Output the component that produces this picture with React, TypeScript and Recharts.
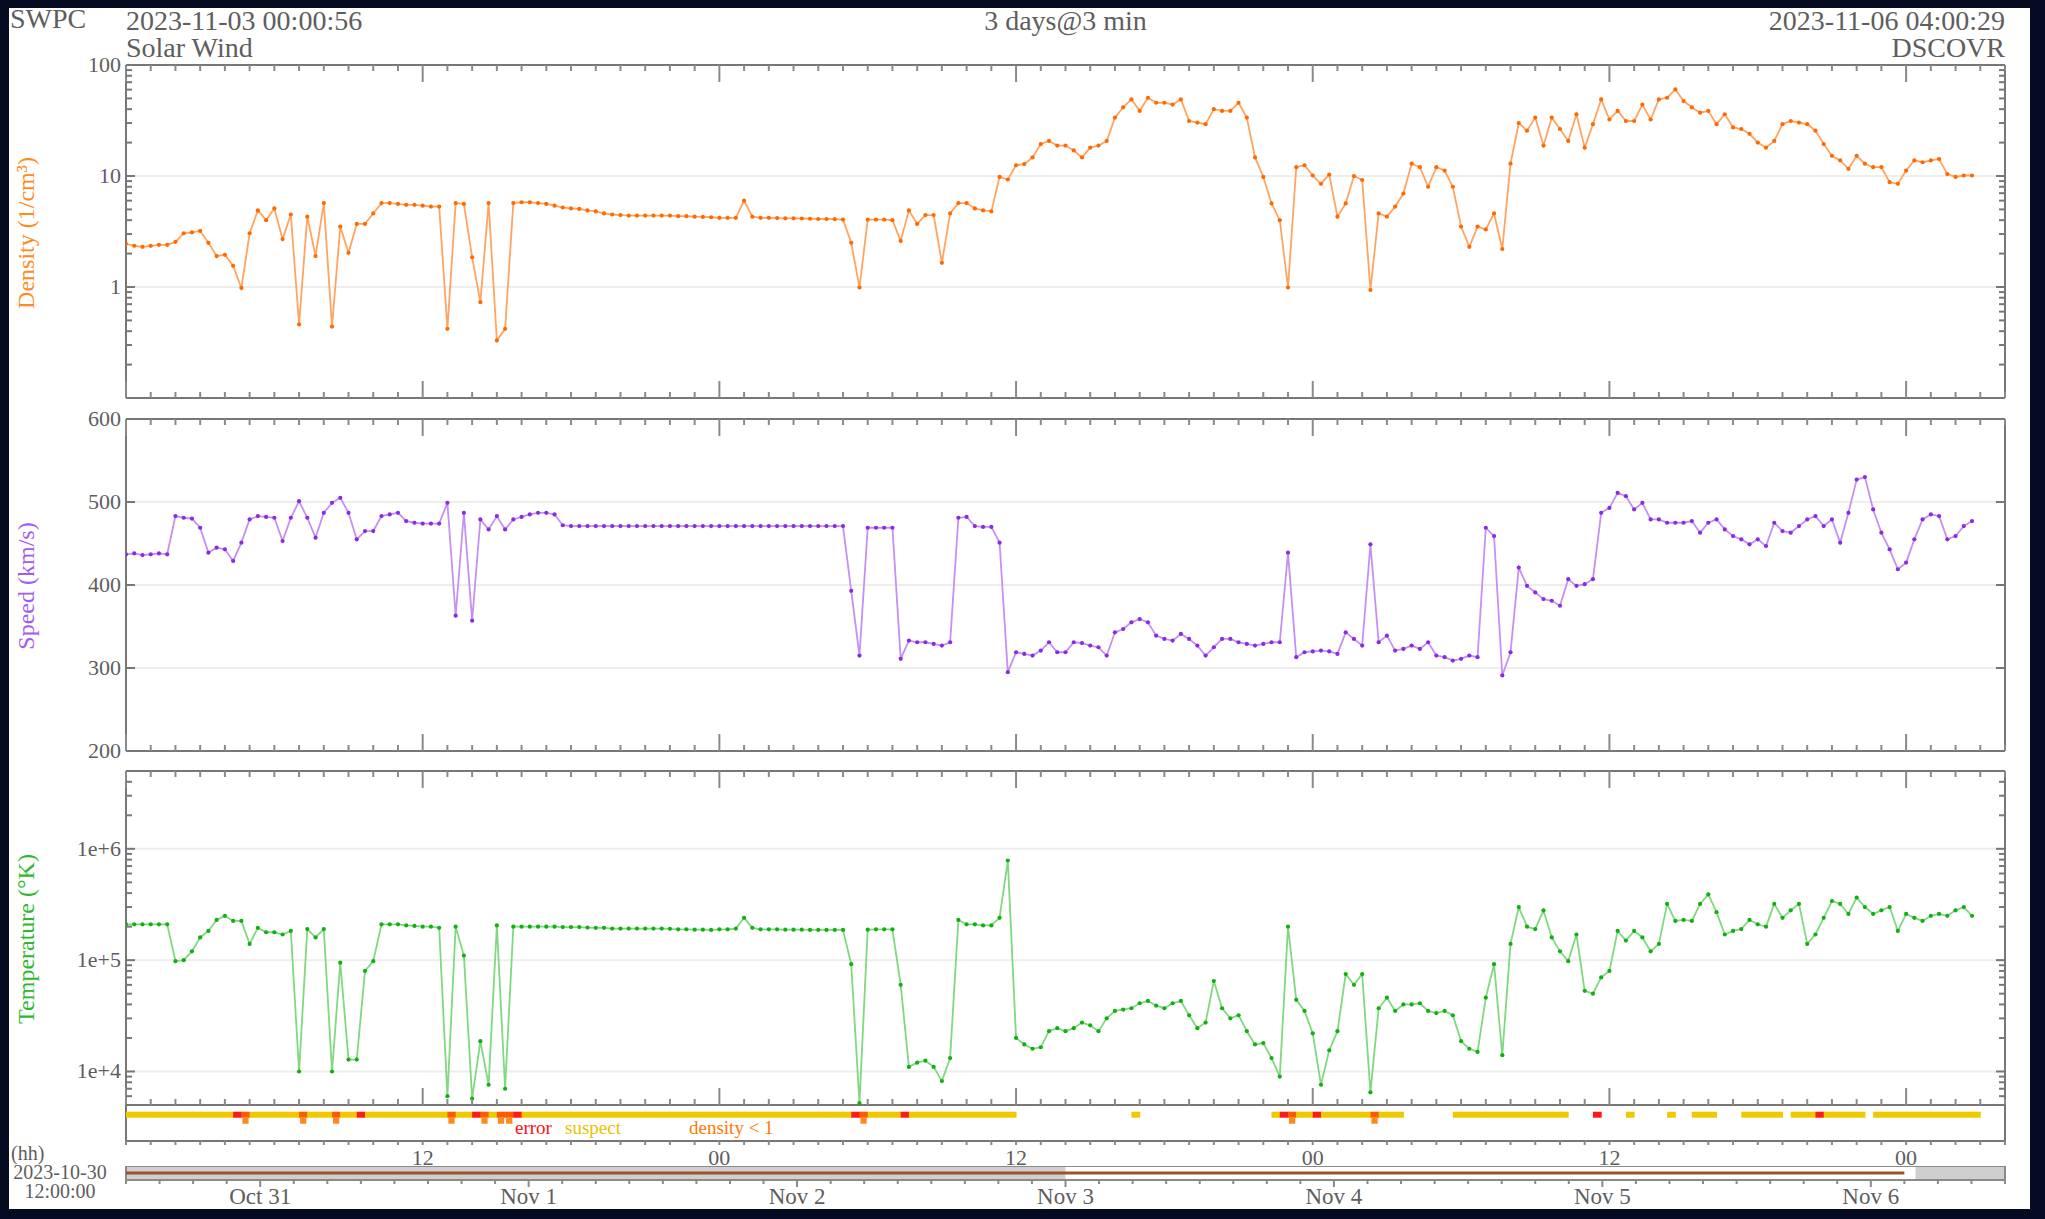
import React from "react";
import {
  LineChart,
  Line,
  XAxis,
  YAxis,
  ReferenceLine,
  ReferenceArea,
  ComposedChart,
  Scatter,
} from "recharts";

// ---- data: 20 minute samples from 2023-11-03 00:00 UT ----
const STEP_HOURS = 1 / 3;

const densityValues = [
  2.45, 2.35, 2.3, 2.35, 2.4, 2.4, 2.55, 3.05, 3.1, 3.2, 2.5, 1.9, 1.95, 1.55, 0.98,
  3.05, 4.9, 4.0, 5.1, 2.7, 4.5, 0.46, 4.3, 1.9, 5.7, 0.44, 3.5, 2.03, 3.7, 3.7,
  4.6, 5.7, 5.7, 5.6, 5.5, 5.5, 5.4, 5.3, 5.3, 0.42, 5.7, 5.6, 1.85, 0.73, 5.7,
  0.33, 0.42, 5.7, 5.8, 5.8, 5.7, 5.6, 5.4, 5.2, 5.1, 5.05, 4.9, 4.8, 4.6, 4.5,
  4.45, 4.4, 4.4, 4.4, 4.4, 4.4, 4.4, 4.35, 4.35, 4.3, 4.28, 4.25, 4.2, 4.2, 4.2,
  6.0, 4.3, 4.2, 4.2, 4.18, 4.16, 4.16, 4.14, 4.12, 4.1, 4.1, 4.08, 4.05, 2.5, 0.99,
  4.05, 4.05, 4.05, 4.0, 2.6, 4.9, 3.7, 4.45, 4.45, 1.65, 4.6, 5.7, 5.7, 5.1, 4.9,
  4.8, 9.8, 9.3, 12.5, 12.8, 14.7, 19.4, 20.7, 18.8, 18.8, 17, 14.7, 18, 18.8, 20.7,
  33.6, 41.6, 49, 38.6, 50.7, 45.7, 45.7, 44, 49, 31.3, 30.3, 29.3, 40, 38.6, 38.6,
  45.7, 33.6, 14.7, 9.8, 5.66, 4.0, 0.99, 12, 12.5, 10.1, 8.5, 10.3, 4.3, 5.66, 10,
  9.2, 0.94, 4.6, 4.3, 5.3, 6.95, 12.9, 12, 8, 12, 11.2, 8, 3.5, 2.3, 3.5,
  3.3, 4.6, 2.2, 12.9, 30, 25.6, 33.6, 18.8, 33.6, 26.5, 20.7, 36, 18, 29.3, 49,
  32.3, 38.6, 31.3, 31.3, 44, 32.3, 49, 50.7, 60.2, 47.3, 41.6, 37.2, 38.6, 29.3, 36,
  27.4, 26.5, 24, 20, 18, 20.7, 29.3, 31.3, 30.3, 29.3, 25.6, 19.4, 15.2, 13.8, 11.6,
  15.2, 12.9, 12, 12, 8.8, 8.5, 11.2, 13.8, 13.3, 13.8, 14.2, 10.4, 9.8, 10.1, 10.1,
];

const speedValues = [
  437, 438, 436, 437, 438, 437, 483, 481, 480, 469, 439, 445, 443, 429, 451,
  479, 483, 482, 481, 453, 481, 501, 481, 457, 487, 499, 505, 487, 455, 465,
  465, 483, 485, 487, 477, 475, 474, 474, 474, 499, 363, 487, 357, 479, 467,
  483, 467, 479, 482, 485, 487, 487, 485, 472, 471, 471, 471, 471, 471, 471,
  471, 471, 471, 471, 471, 471, 471, 471, 471, 471, 471, 471, 471, 471, 471,
  471, 471, 471, 471, 471, 471, 471, 471, 471, 471, 471, 471, 471, 393, 315,
  469, 469, 469, 469, 311, 333, 331, 331, 329, 327, 331, 481, 482, 471, 470,
  470, 451, 295, 319, 317, 315, 321, 331, 319, 319, 331, 330, 327, 325, 315,
  343, 347, 355, 359, 355, 339, 335, 333, 341, 335, 327, 315, 325, 335, 335,
  331, 329, 327, 329, 331, 331, 439, 313, 319, 320, 321, 320, 317, 343, 335,
  327, 449, 331, 339, 321, 323, 327, 323, 331, 315, 313, 309, 311, 315, 313,
  469, 459, 291, 319, 421, 399, 391, 383, 381, 375, 407, 399, 401, 407, 487,
  493, 511, 507, 491, 499, 479, 479, 475, 475, 475, 477, 463, 475, 479, 467,
  459, 455, 449, 455, 447, 475, 465, 463, 471, 479, 483, 471, 479, 451, 487,
  527, 530, 491, 463, 443, 419, 427, 455, 479, 485, 483, 455, 459, 471, 477,
];

const temperatureValues = [
  210000, 210000, 210000, 210000, 210000, 210000, 98000, 100000, 120000, 160000, 183000, 230000, 250000, 225000, 225000,
  140000, 195000, 178000, 178000, 170000, 183000, 10000, 190000, 160000, 190000, 10000, 95000, 12800, 12800, 80000,
  98000, 210000, 210000, 210000, 205000, 203000, 200000, 200000, 195000, 6000, 200000, 110000, 5700, 18700, 7600,
  205000, 7000, 200000, 200000, 200000, 200000, 200000, 200000, 198000, 198000, 198000, 196000, 195000, 195000, 192000,
  192000, 192000, 192000, 192000, 192000, 192000, 191000, 189000, 189000, 188000, 188000, 187000, 189000, 189000, 192000,
  240000, 195000, 189000, 189000, 189000, 188000, 188000, 188000, 187000, 187000, 187000, 187000, 187000, 92000, 5200,
  188000, 189000, 189000, 189000, 60000, 11000, 12000, 12500, 11000, 8200, 13200, 230000, 210000, 210000, 205000,
  205000, 240000, 785000, 20000, 17500, 16000, 16500, 23000, 24500, 23000, 24500, 27500, 26000, 23000, 30000,
  35000, 36000, 37000, 41000, 43000, 39000, 37000, 41000, 43000, 32000, 24500, 27500, 65000, 37000, 30000,
  32000, 23000, 17500, 18000, 13200, 9000, 200000, 44000, 35000, 22000, 7600, 15500, 23000, 75000, 60000,
  75000, 6500, 37000, 46000, 35000, 40000, 40000, 41000, 35000, 33500, 35000, 32000, 18700, 16000, 15000,
  46000, 92000, 14000, 140000, 300000, 200000, 190000, 280000, 160000, 120000, 98000, 170000, 53000, 50000, 70000,
  80000, 183000, 150000, 183000, 160000, 120000, 140000, 320000, 225000, 230000, 225000, 320000, 390000, 270000, 170000,
  183000, 190000, 230000, 210000, 200000, 320000, 240000, 280000, 320000, 140000, 170000, 240000, 340000, 320000, 260000,
  365000, 300000, 260000, 280000, 300000, 183000, 260000, 240000, 225000, 250000, 260000, 250000, 280000, 300000, 250000,
];

// quality flag runs: [first sample, last sample, code]  s=suspect e=error d=density<1
const flagRuns: Array<[number, number, string]> = [
  [0, 12, "s"], [13, 13, "e"], [14, 14, "d"], [15, 20, "s"], [21, 21, "d"], [22, 24, "s"],
  [25, 25, "d"], [26, 27, "s"], [28, 28, "e"], [29, 38, "s"], [39, 39, "d"], [40, 41, "s"],
  [42, 42, "e"], [43, 43, "d"], [44, 44, "s"], [45, 46, "d"], [47, 47, "e"], [48, 87, "s"],
  [88, 88, "e"], [89, 89, "d"], [90, 93, "s"], [94, 94, "e"], [95, 107, "s"], [122, 122, "s"],
  [139, 139, "s"], [140, 140, "e"], [141, 141, "d"], [142, 143, "s"], [144, 144, "e"],
  [145, 150, "s"], [151, 151, "d"], [152, 154, "s"], [161, 174, "s"], [178, 178, "e"],
  [182, 182, "s"], [187, 187, "s"], [190, 192, "s"], [196, 200, "s"], [202, 204, "s"],
  [205, 205, "e"], [206, 210, "s"], [212, 224, "s"],
];

const densityTicks = [0.1, 0.2, 0.3, 0.4, 0.5, 0.6, 0.7, 0.8, 0.9, 1, 2, 3, 4, 5, 6, 7, 8, 9, 10, 20, 30, 40, 50, 60, 70, 80, 90, 100];
const densityLabels: Record<string, string> = { "1": "1", "10": "10", "100": "100" };
const speedTicks = [200, 300, 400, 500, 600];
const speedLabels: Record<string, string> = { "200": "200", "300": "300", "400": "400", "500": "500", "600": "600" };
const temperatureTicks = [
  5000, 6000, 7000, 8000, 9000, 10000, 20000, 30000, 40000, 50000, 60000, 70000, 80000, 90000,
  100000, 200000, 300000, 400000, 500000, 600000, 700000, 800000, 900000, 1000000, 2000000, 3000000, 4000000, 5000000,
];
const temperatureLabels: Record<string, string> = { "10000": "1e+4", "100000": "1e+5", "1000000": "1e+6" };

const hourLabelHours = [12, 24, 36, 48, 60, 72];
const hourLabels = ["12", "00", "12", "00", "12", "00"];
const dateTickHours = [12, 36, 60, 84, 108, 132, 156];
const dateLabels = ["Oct 31", "Nov 1", "Nov 2", "Nov 3", "Nov 4", "Nov 5", "Nov 6"];
const selectionWindow = [84, 160];
const dataSpan = [0, 159];

// ---- layout ----
const W = 2045;
const H = 1219;
const PLOT_L = 126;
const PLOT_R = 2005;
const AX = 20;
const TEXT = "#5e5e5e";
const FRAME = "#777";
const FONT = "'Liberation Serif', 'DejaVu Serif', serif";

const rows = densityValues.map((d, i) => ({
  h: i * STEP_HOURS,
  density: d,
  speed: speedValues[i],
  temperature: temperatureValues[i],
}));

const flagPoints: Array<{ h: number; y: number; code: string }> = [];
flagRuns.forEach(([a, b, code]) => {
  for (let i = a; i <= b; i++) flagPoints.push({ h: i * STEP_HOURS, y: 0.73, code });
});

const hourTicks = Array.from({ length: 77 }, (_, i) => i);
const timelineTicks = Array.from({ length: 57 }, (_, i) => i * 3);
const STEP_PX = ((PLOT_R - PLOT_L) / 76) * STEP_HOURS;

function topTick(y0: number) {
  return (p: any) => {
    const big = p.payload.value % 12 === 0;
    return <line x1={p.x} x2={p.x} y1={y0} y2={y0 + (big ? 17 : 6)} stroke="#8a8a8a" strokeWidth={2} />;
  };
}
function bottomTick(y0: number) {
  return (p: any) => {
    const big = p.payload.value % 12 === 0;
    return <line x1={p.x} x2={p.x} y1={y0} y2={y0 - (big ? 17 : 6)} stroke="#8a8a8a" strokeWidth={2} />;
  };
}
function leftTick(labels: Record<string, string>) {
  return (p: any) => {
    const lab = labels[String(p.payload.value)];
    return (
      <g>
        <line x1={PLOT_L} x2={PLOT_L + (lab ? 9 : 6)} y1={p.y} y2={p.y} stroke={FRAME} strokeWidth={2} />
        {lab && (
          <text x={PLOT_L - 5} y={p.y + 7} textAnchor="end" fontSize={22} fill={TEXT} fontFamily={FONT}>
            {lab}
          </text>
        )}
      </g>
    );
  };
}
function rightTick(labels: Record<string, string>) {
  return (p: any) => {
    const lab = labels[String(p.payload.value)];
    return <line x1={PLOT_R} x2={PLOT_R - (lab ? 9 : 6)} y1={p.y} y2={p.y} stroke={FRAME} strokeWidth={2} />;
  };
}

type PanelProps = {
  top: number;
  bottom: number;
  dataKey: string;
  domain: [number, number];
  log: boolean;
  ticks: number[];
  labels: Record<string, string>;
  grid: number[];
  stroke: string;
  dotColor: string;
};

function Panel({ top, bottom, dataKey, domain, log, ticks, labels, grid, stroke, dotColor }: PanelProps) {
  const h = bottom - top;
  const axisLine = { stroke: FRAME, strokeWidth: 2 };
  return (
    <div style={{ position: "absolute", left: 0, top: top - AX }}>
      <LineChart width={W} height={h + 2 * AX} data={rows} margin={{ top: 0, right: W - PLOT_R - 10, bottom: 0, left: 0 }}>
        <XAxis xAxisId="t" orientation="top" type="number" dataKey="h" domain={[0, 76]} ticks={hourTicks}
          interval={0} height={AX} tickLine={false} axisLine={axisLine} tick={topTick(AX)} allowDataOverflow />
        <XAxis xAxisId="b" orientation="bottom" type="number" dataKey="h" domain={[0, 76]} ticks={hourTicks}
          interval={0} height={AX} tickLine={false} axisLine={axisLine} tick={bottomTick(AX + h)} allowDataOverflow />
        <YAxis yAxisId="l" orientation="left" width={PLOT_L} type="number" scale={log ? "log" : "linear"}
          domain={domain} ticks={ticks} interval={0} allowDataOverflow tickLine={false} axisLine={axisLine}
          tick={leftTick(labels)} />
        <YAxis yAxisId="r" orientation="right" width={10} type="number" scale={log ? "log" : "linear"}
          domain={domain} ticks={ticks} interval={0} allowDataOverflow tickLine={false} axisLine={axisLine}
          tick={rightTick(labels)} />
        {grid.map((g) => (
          <ReferenceLine key={g} xAxisId="b" yAxisId="l" y={g} stroke="#eeeeee" strokeWidth={2} />
        ))}
        <Line xAxisId="b" yAxisId="l" type="linear" dataKey={dataKey} stroke={stroke} strokeWidth={1.8}
          dot={{ r: 2.1, fill: dotColor, stroke: "none" }} isAnimationActive={false} />
      </LineChart>
    </div>
  );
}

const flagColors: Record<string, string> = { s: "#f0c800", e: "#ff1a1a", d: "#ff7a00" };

function FlagShape(p: any) {
  const code = p.payload.code;
  const x = p.cx;
  const y = p.cy;
  if (code === "d") {
    return (
      <g>
        <rect x={x} y={y - 3} width={STEP_PX + 0.5} height={6} fill="#ff5a00" />
        <rect x={x + 1} y={y + 3} width={STEP_PX - 2} height={6} fill="#ff8a1a" />
      </g>
    );
  }
  return <rect x={x} y={y - 3} width={STEP_PX + 0.5} height={6} fill={flagColors[code]} />;
}

const FLAG_TOP = 1105;
const FLAG_BOTTOM = 1141;

function FlagStrip() {
  const h = FLAG_BOTTOM - FLAG_TOP;
  const axisLine = { stroke: FRAME, strokeWidth: 2 };
  const hhTick = (p: any) => {
    const v = p.payload.value;
    const k = hourLabelHours.indexOf(v);
    return (
      <g>
        <line x1={p.x} x2={p.x} y1={h} y2={h + 4} stroke="#8a8a8a" strokeWidth={2} />
        {k >= 0 && (
          <text x={p.x} y={h + 24} textAnchor="middle" fontSize={22} fill={TEXT} fontFamily={FONT}>
            {hourLabels[k]}
          </text>
        )}
      </g>
    );
  };
  return (
    <div style={{ position: "absolute", left: 0, top: FLAG_TOP }}>
      <ComposedChart width={W} height={h + 30} margin={{ top: 0, right: W - PLOT_R - 10, bottom: 0, left: 0 }}>
        <XAxis type="number" dataKey="h" domain={[0, 76]} ticks={hourTicks} interval={0} height={30}
          tickLine={false} axisLine={axisLine} tick={hhTick} allowDataOverflow />
        <YAxis yAxisId="l" width={PLOT_L} type="number" domain={[0, 1]} tick={false} tickLine={false} axisLine={axisLine} />
        <YAxis yAxisId="r" orientation="right" width={10} type="number" domain={[0, 1]} tick={false} tickLine={false} axisLine={axisLine} />
        <Scatter yAxisId="l" data={flagPoints} dataKey="y" shape={FlagShape} isAnimationActive={false} />
      </ComposedChart>
    </div>
  );
}

const TL_TOP = 1166;
const TL_H = 14;

function Timeline() {
  const spanRows = dataSpan.map((t) => ({ t, y: 0.5 }));
  const tlTick = (p: any) => {
    const v = p.payload.value;
    const k = dateTickHours.indexOf(v);
    return (
      <g>
        <line x1={p.x} x2={p.x} y1={TL_H} y2={TL_H + (k >= 0 ? 7 : 4)} stroke="#8a8a8a" strokeWidth={2} />
        {k >= 0 && (
          <text x={p.x} y={TL_H + 24} textAnchor="middle" fontSize={23} fill={TEXT} fontFamily={FONT}>
            {dateLabels[k]}
          </text>
        )}
      </g>
    );
  };
  return (
    <div style={{ position: "absolute", left: 0, top: TL_TOP }}>
      <ComposedChart width={W} height={TL_H + 40} data={spanRows} margin={{ top: 0, right: W - PLOT_R - 10, bottom: 0, left: 0 }}>
        <XAxis type="number" dataKey="t" domain={[0, 168]} ticks={timelineTicks} interval={0} height={40}
          tickLine={false} axisLine={false} tick={tlTick} allowDataOverflow />
        <YAxis width={PLOT_L} type="number" domain={[0, 1]} tick={false} tickLine={false} axisLine={false} />
        <YAxis yAxisId="r" orientation="right" width={10} type="number" domain={[0, 1]} tick={false} tickLine={false} axisLine={false} />
        <ReferenceArea x1={0} x2={168} y1={0} y2={1} fill="#cfcfcf" fillOpacity={1} stroke="#8a8a8a" strokeWidth={2} />
        <ReferenceArea x1={selectionWindow[0]} x2={selectionWindow[1]} y1={0.08} y2={0.92} fill="#ffffff" fillOpacity={1} />
        <Line type="linear" dataKey="y" stroke="#a0522d" strokeWidth={3} dot={false} isAnimationActive={false} />
      </ComposedChart>
    </div>
  );
}

export default function App() {
  return (
    <div style={{ position: "relative", width: W, height: H, background: "#050b20", overflow: "hidden", fontFamily: FONT }}>
      <style>{"body{margin:0}"}</style>
      <div style={{ position: "absolute", left: 9, top: 8, width: 2021, height: 1201, background: "#ffffff" }} />
      <Panel top={65} bottom={398} dataKey="density" domain={[0.1, 100]} log ticks={densityTicks}
        labels={densityLabels} grid={[1, 10]} stroke="#ffa461" dotColor="#ff6a00" />
      <Panel top={419} bottom={751} dataKey="speed" domain={[200, 600]} log={false} ticks={speedTicks}
        labels={speedLabels} grid={[300, 400, 500]} stroke="#c690f3" dotColor="#8a2be2" />
      <Panel top={771} bottom={1105} dataKey="temperature" domain={[5000, 5000000]} log ticks={temperatureTicks}
        labels={temperatureLabels} grid={[10000, 100000, 1000000]} stroke="#80d880" dotColor="#10b010" />
      <FlagStrip />
      <Timeline />
      <svg width={W} height={H} style={{ position: "absolute", left: 0, top: 0, pointerEvents: "none" }}>
        <g fontFamily={FONT} fill={TEXT} fontSize={28}>
          <text x={10} y={28}>SWPC</text>
          <text x={PLOT_L} y={30}>2023-11-03 00:00:56</text>
          <text x={(PLOT_L + PLOT_R) / 2} y={30} textAnchor="middle">3 days@3 min</text>
          <text x={PLOT_R} y={30} textAnchor="end">2023-11-06 04:00:29</text>
          <text x={PLOT_L} y={57}>Solar Wind</text>
          <text x={PLOT_R} y={57} textAnchor="end">DSCOVR</text>
        </g>
        <g fontFamily={FONT} fontSize={24}>
          <text transform="translate(26,233) rotate(-90)" textAnchor="middle" dy={8} fill="#ff8a1f">Density (1/cm³)</text>
          <text transform="translate(26,586) rotate(-90)" textAnchor="middle" dy={8} fill="#a35af0">Speed (km/s)</text>
          <text transform="translate(26,939) rotate(-90)" textAnchor="middle" dy={8} fill="#2cb82c">Temperature (°K)</text>
        </g>
        <g fontFamily={FONT} fontSize={19}>
          <text x={515} y={1134} fill="#ff1010">error</text>
          <text x={565} y={1134} fill="#e8c200">suspect</text>
          <text x={689} y={1134} fill="#ff7a00">density &lt; 1</text>
        </g>
        <g fontFamily={FONT} fill={TEXT} fontSize={20}>
          <text x={11} y={1160}>(hh)</text>
          <text x={60} y={1179} textAnchor="middle">2023-10-30</text>
          <text x={60} y={1198} textAnchor="middle">12:00:00</text>
        </g>
      </svg>
    </div>
  );
}
